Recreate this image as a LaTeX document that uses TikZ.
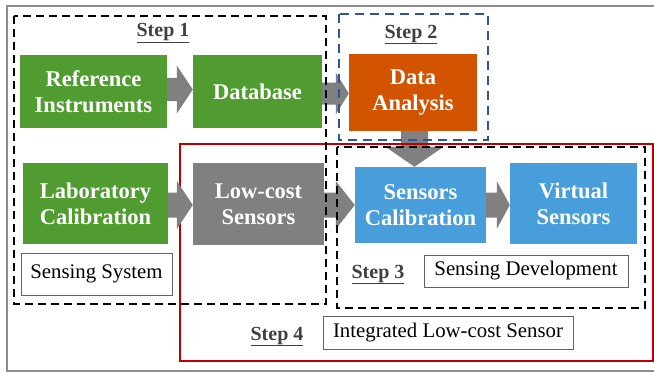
\documentclass[tikz,border=0pt]{standalone}
\usepackage{fontspec}
\setmainfont{Liberation Serif}
\usetikzlibrary{calc}
\definecolor{bgreen}{RGB}{80,156,48}
\definecolor{borange}{RGB}{211,84,0}
\definecolor{bblue}{RGB}{72,158,219}
\definecolor{bgray}{RGB}{128,128,128}
\definecolor{steptext}{RGB}{64,64,64}
\definecolor{dblue}{RGB}{47,85,151}
\definecolor{dred}{RGB}{192,0,0}
\definecolor{framegray}{RGB}{140,140,140}
\definecolor{labgray}{RGB}{100,100,100}
\tikzset{
  bigbox/.style={inner sep=0pt, text=white, align=center,
    font=\bfseries\fontsize{22.5}{26}\selectfont},
  labbox/.style={draw=labgray, line width=1pt, inner sep=0pt,
    font=\fontsize{20.8}{24}\selectfont},
  steplab/.style={text=steptext, anchor=base, inner sep=0pt,
    font=\bfseries\fontsize{20}{24}\selectfont},
  arrowfill/.style={fill=bgray},
  blackdash/.style={draw=black, line width=2pt, dash pattern=on 8pt off 5pt},
  bluedash/.style={draw=dblue, line width=2pt, dash pattern=on 9pt off 6pt},
  redframe/.style={draw=dred, line width=2pt},
  outerframe/.style={draw=framegray, line width=1.8pt}
}
% from, to, y centre, body half height, head half height, head length
\newcommand\blockarrowR[6]{%
  \fill[arrowfill] let \p1=(#1.east), \p2=(#2.west), \p3=(0,#3) in
    (\x1,\y3+#4pt) -- (\x2-#6pt,\y3+#4pt) -- (\x2-#6pt,\y3+#5pt) -- (\x2,\y3)
    -- (\x2-#6pt,\y3-#5pt) -- (\x2-#6pt,\y3-#4pt) -- (\x1,\y3-#4pt) -- cycle;}
% from, to, x centre, body half width, head half width, head length
\newcommand\blockarrowD[6]{%
  \fill[arrowfill] let \p1=(#1.south), \p2=(#2.north), \p3=(#3,0) in
    (\x3-#4pt,\y1) -- (\x3-#4pt,\y2+#6pt) -- (\x3-#5pt,\y2+#6pt) -- (\x3,\y2)
    -- (\x3+#5pt,\y2+#6pt) -- (\x3+#4pt,\y2+#6pt) -- (\x3+#4pt,\y1) -- cycle;}
\begin{document}
\begin{tikzpicture}[x=1pt,y=-1pt]
\useasboundingbox (0,0) rectangle (654,373);
\clip (0,0) rectangle (654,373);
\draw[outerframe] (7,6) rectangle (720,371);

% main boxes
\node[bigbox, fill=bgreen, minimum width=147pt, minimum height=73pt] (ref) at (93.5,91.5) {Reference\\Instruments};
\node[bigbox, fill=bgreen, minimum width=129pt, minimum height=73pt] (db) at (257.5,91.5) {Database};
\node[bigbox, fill=borange, minimum width=128pt, minimum height=77pt] (da) at (413,92.5) {Data\\Analysis};
\node[bigbox, fill=bgreen, minimum width=145pt, minimum height=81pt] (lab) at (95.5,203.5) {Laboratory\\Calibration};
\node[bigbox, fill=bgray, minimum width=131pt, minimum height=82pt] (lc) at (258.5,204) {Low-cost\\Sensors};
\node[bigbox, fill=bblue, minimum width=131pt, minimum height=76pt] (sc) at (420.5,205) {Sensors\\Calibration};
\node[bigbox, fill=bblue, minimum width=127pt, minimum height=81pt] (vs) at (573.5,203.5) {Virtual\\Sensors};

% arrows
\blockarrowD{da}{sc}{414.5}{13.5}{29}{20}
\draw[redframe] (180,143.5) rectangle (653,361);
\blockarrowR{lab}{lc}{205}{12.5}{24}{16}
\blockarrowR{ref}{db}{89.5}{11.7}{24}{16}
\blockarrowR{db}{da}{93.5}{11}{21}{13}
\blockarrowR{lc}{sc}{205}{12.5}{24}{19}
\blockarrowR{sc}{vs}{205}{12.5}{24}{13}

% dashed groups
\draw[blackdash] (14,16) rectangle (326,304);
\draw[bluedash] (339,14) rectangle (488,140);
\draw[blackdash] (337,147) rectangle (645,308);

% labels
\node[labbox, minimum width=151pt, minimum height=42pt] (ss) at (96.5,274) {Sensing System};
\node[labbox, minimum width=204pt, minimum height=32pt] (sd) at (526,271) {Sensing Development};
\node[labbox, minimum width=250pt, minimum height=33pt] (ils) at (448,332.5) {Integrated Low-cost Sensor};

\node[steplab] (s1) at (163,36.7) {\underline{Step 1}};
\node[steplab] (s2) at (411,38) {\underline{Step 2}};
\node[steplab] (s3) at (378,278) {\underline{Step 3}};
\node[steplab] (s4) at (277,340) {\underline{Step 4}};
\end{tikzpicture}
\end{document}
